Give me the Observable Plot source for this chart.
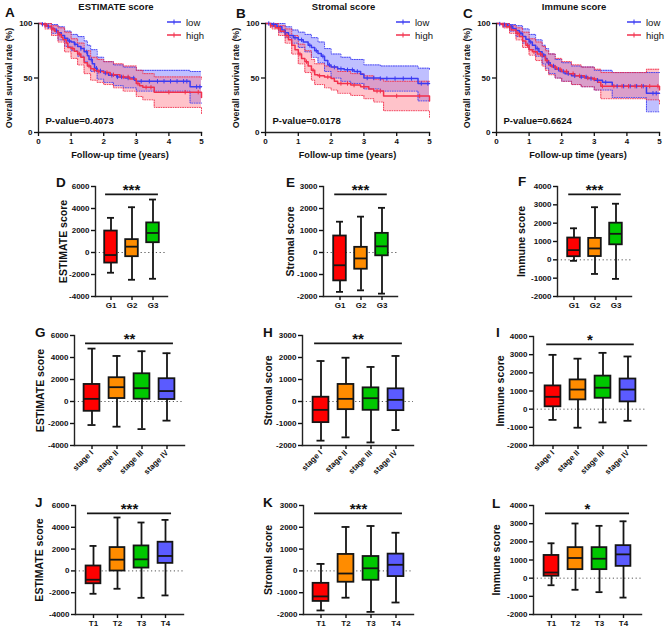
<!DOCTYPE html>
<html><head><meta charset="utf-8">
<script src="https://cdn.jsdelivr.net/npm/d3@7"></script>
<script src="https://cdn.jsdelivr.net/npm/@observablehq/plot@0.6"></script>
<style>
body{margin:0;background:#fff;}
#root{position:relative;width:669px;height:635px;overflow:hidden;background:#fff;font-family:"Liberation Sans",Arial,Helvetica,sans-serif;}
.panel{position:absolute;overflow:visible;}
.letter{position:absolute;font-weight:bold;font-size:13.5px;line-height:1;color:#111;}
.legend{position:absolute;display:flex;align-items:center;height:12px;font-size:9.5px;color:#111;}
</style></head><body><div id="root"></div>
<script>
// ---------- DATA ----------
// Kaplan-Meier curves: [time (years), survival %]
const estimateLow = [[0,100],[0.1,99.3],[0.2,98.5],[0.3,97],[0.4,95.5],[0.5,93.5],[0.6,91.5],[0.7,89],[0.8,86.5],[0.9,84],[1.0,83],[1.1,81],[1.2,79],[1.3,77],[1.4,74],[1.5,70.5],[1.55,67],[1.65,63],[1.72,59],[1.8,56.5],[2.0,54.5],[2.15,52.5],[2.4,51],[2.65,50],[2.95,48],[3.0,47],[4.65,42],[5,42]];
const estimateHigh = [[0,100],[0.1,99],[0.25,97.5],[0.4,95],[0.5,93],[0.6,90],[0.7,87.5],[0.75,85],[0.85,82],[0.9,78],[1.0,77],[1.1,74.5],[1.2,72],[1.3,69],[1.4,64],[1.5,61],[1.6,58.5],[1.7,57],[1.8,56],[2.0,55],[2.2,53],[2.5,51],[2.8,49],[3.0,45],[3.1,43],[3.2,41.5],[3.55,37],[5,32]];
const stromalLow = [[0,100],[0.2,99],[0.35,97],[0.5,94],[0.6,91.5],[0.7,89],[0.85,87],[1.0,85],[1.15,83],[1.3,80],[1.4,78],[1.5,75],[1.6,72.5],[1.7,70],[1.8,66],[1.9,62],[2.0,60],[2.2,58.5],[2.4,57.5],[2.7,56],[2.9,53.5],[3.0,50],[3.5,49.5],[4.65,45],[5,45]];
const stromalHigh = [[0,100],[0.15,98],[0.3,96],[0.45,93],[0.6,89],[0.7,85],[0.8,80],[0.9,76],[1.0,72],[1.1,68],[1.2,65],[1.3,61],[1.4,57],[1.5,53],[1.6,52],[1.8,51],[2.0,49.5],[2.1,47],[2.2,45],[2.6,43.5],[2.9,42],[3.15,40],[3.3,38],[3.6,33.5],[5,29]];
const immuneLow = [[0,100],[0.1,99.5],[0.2,99],[0.35,97.5],[0.5,95.5],[0.6,93.5],[0.7,91],[0.8,88],[0.9,85.5],[1.0,83],[1.1,80],[1.2,77],[1.3,74],[1.4,71],[1.5,68],[1.55,64],[1.65,61],[1.8,58],[1.95,56],[2.1,54],[2.3,52],[2.55,51],[2.8,49.5],[3.0,48],[3.25,46],[3.55,42.5],[4.6,36],[5,36]];
const immuneHigh = [[0,100],[0.15,99],[0.3,97],[0.45,94],[0.6,91],[0.7,88],[0.8,84],[0.9,80],[1.0,76],[1.1,74],[1.25,72],[1.4,70],[1.5,66],[1.6,62],[1.7,60],[1.85,58],[2.0,56],[2.2,54],[2.4,52],[2.7,50],[2.95,49],[3.1,46],[3.2,42.5],[5,39]];
// 95% confidence bands: [time, lower %, upper %]
const estimateLowBand = [[0,100,100],[0.2,97,100],[0.4,91,99],[0.6,85,97],[0.8,79,93],[1.0,75,90],[1.2,70,88],[1.4,65,84],[1.5,61,80],[1.6,56,76],[1.8,49,69],[2.0,46,65],[2.3,43,62],[2.6,41,60],[3.0,38,57],[4.65,27,56],[5,27,56]];
const estimateHighBand = [[0,100,100],[0.2,95,100],[0.4,89,98],[0.6,83,96],[0.8,74,92],[1.0,68,86],[1.2,62,82],[1.4,54,75],[1.6,48,69],[1.8,46,67],[2.0,44,65],[2.3,41,63],[2.6,38,61],[3.0,33,57],[3.2,30,54],[3.55,23,51],[5,17,49]];
const stromalLowBand = [[0,100,100],[0.2,97,100],[0.4,92,100],[0.6,87,97],[0.8,82,94],[1.0,78,92],[1.2,74,90],[1.4,69,87],[1.6,64,83],[1.8,56,77],[2.0,50,72],[2.3,47,69],[2.6,45,67],[3.0,40,62],[3.5,38,61],[4.65,29,59],[5,29,58]];
const stromalHighBand = [[0,100,100],[0.2,95,100],[0.4,89,98],[0.6,82,95],[0.8,72,89],[1.0,63,81],[1.2,55,75],[1.4,48,67],[1.5,44,63],[1.8,41,61],[2.0,39,60],[2.2,36,56],[2.6,34,54],[3.0,31,52],[3.3,28,49],[3.6,20,47],[5,14,46]];
const immuneLowBand = [[0,100,100],[0.2,97,100],[0.4,93,99],[0.6,88,98],[0.8,82,95],[1.0,76,90],[1.2,70,85],[1.4,63,80],[1.5,59,77],[1.6,54,72],[1.8,50,67],[2.0,47,64],[2.3,44,61],[2.6,42,60],[3.0,39,57],[3.55,32,55],[4.6,19,55],[5,19,55]];
const immuneHighBand = [[0,100,100],[0.2,96,100],[0.4,91,98],[0.6,85,96],[0.8,78,92],[1.0,71,86],[1.2,66,83],[1.4,61,79],[1.5,57,75],[1.6,53,72],[1.8,50,68],[2.0,47,65],[2.3,44,62],[2.6,42,60],[3.0,39,58],[3.2,31,55],[4.6,30,58],[5,25,58]];
// censoring times (years)
const estimateLowCens = [0.12,0.3,0.55,0.95,1.12,1.3,1.48,1.62,1.78,1.9,2.05,2.25,2.42,2.55,2.75,2.92,3.15,3.4,3.65,3.85,4.05,4.25,4.45,4.55,4.85,4.95];
const estimateHighCens = [0.2,0.45,0.65,1.05,1.25,1.55,1.72,1.85,2.1,2.3,2.6,2.75,3.05,3.3,3.45,4.0,4.5,4.9];
const stromalLowCens = [0.1,0.25,0.6,0.9,1.1,1.35,1.55,1.75,1.95,2.1,2.3,2.5,2.65,2.8,3.1,3.3,3.5,3.7,3.95,4.2,4.45,4.75,4.95];
const stromalHighCens = [0.15,0.4,0.65,1.05,1.25,1.45,1.65,1.9,2.3,2.5,2.7,3.0,3.4,3.5,4.0,4.7];
const immuneLowCens = [0.1,0.25,0.45,0.75,1.05,1.25,1.45,1.6,1.75,1.9,2.05,2.2,2.4,2.6,2.75,2.9,3.1,3.35,3.7,3.9,4.1,4.3,4.5,4.8,4.9];
const immuneHighCens = [0.2,0.4,0.65,0.95,1.15,1.35,1.55,1.8,1.95,2.15,2.35,2.55,2.8,3.0,3.25,3.6,3.85,4.05,4.25,4.45,4.7,4.95];

// Box plot categories
const gradeCats = ["G1","G2","G3"];
const stageCats = ["stage I","stage II","stage III","stage IV"];
const tCats = ["T1","T2","T3","T4"];
// box stats: [min, q1, median, q3, max]
const estimateGrade = [[-1840,-960,-230,1950,3150],[-2480,-380,530,1170,4115],[-2390,890,1775,2690,4815]];
const stromalGrade  = [[-1790,-1290,-580,750,1400],[-1720,-760,-270,235,1630],[-1870,-150,280,870,2030]];
const immuneGrade   = [[-55,170,530,1190,1720],[-770,180,620,1170,2870],[-1040,820,1420,2000,3060]];
const estimateStage = [[-2140,-890,240,1550,4810],[-2290,270,1300,2160,4140],[-2510,210,1210,2520,4570],[-1740,180,950,2070,4390]];
const stromalStage  = [[-1780,-960,-380,195,1840],[-1630,-370,120,775,1990],[-1860,-400,150,620,1570],[-1300,-415,75,575,2070]];
const immuneStage   = [[-590,130,680,1280,2990],[-1020,510,1080,1610,2780],[-730,600,1180,1820,3100],[-640,400,1080,1660,2900]];
const estimateT = [[-2100,-1180,-810,450,2290],[-1640,-10,1030,2140,4900],[-2470,260,1060,2290,4440],[-2250,690,1370,2630,4680]];
const stromalT  = [[-1815,-1400,-1170,-570,320],[-1230,-520,-120,755,2015],[-1880,-430,120,660,2060],[-1450,-260,280,770,1750]];
const immuneT   = [[-390,110,310,1250,1920],[-640,470,1110,1680,3010],[-770,470,1070,1680,2880],[-1070,650,1310,1790,3130]];

const boxColors = ["#ff0000","#ff8c00","#00c800","#5b5bff"];
const BLUE = "#3b3bf2", RED = "#f2304c";
const FONT = "'Liberation Sans', Arial, Helvetica, sans-serif";

const root = document.getElementById("root");

function stepAt(curve, t) { let s = curve[0][1]; for (const [tt, v] of curve) { if (tt <= t) s = v; else break; } return s; }
const tickSymbol = {draw(ctx, size) { const r = Math.sqrt(size / Math.PI); ctx.moveTo(0, -r); ctx.lineTo(0, r); }};

function addSvg(svg, left, topPx) {
  svg.classList.add("panel");
  svg.style.left = left + "px"; svg.style.top = topPx + "px";
  root.appendChild(svg);
}
function letter(ch, x, capTop) {
  const d = document.createElement("div");
  d.className = "letter"; d.textContent = ch;
  d.style.left = x + "px"; d.style.top = (capTop - 1.8) + "px";
  root.appendChild(d);
}
function legendRow(x, y, color, text) {
  const d = document.createElement("div");
  d.className = "legend";
  d.style.left = x + "px"; d.style.top = (y - 6) + "px";
  d.innerHTML = `<svg width="14" height="12" style="display:block"><line x1="0" x2="14" y1="6" y2="6" stroke="${color}" stroke-width="1.5"/><line x1="7" x2="7" y1="3.5" y2="8.5" stroke="${color}" stroke-width="1"/></svg><span style="margin-left:5px">${text}</span>`;
  root.appendChild(d);
}

function survival({x0, frame:[l,t,r,b], lowS, highS, lowBand, highBand, lowCens, highCens, title, pval}) {
  const W = 223, H = 162;
  const rows = a => a.map(([t,s]) => ({t, s}));
  const bands = a => a.map(([t,lo,hi]) => ({t, lo, hi}));
  const cens = (times, curve) => times.map(t => ({t, s: stepAt(curve, t)}));
  const dotted = {curve: "step-after", strokeWidth: 0.9, strokeDasharray: "1,1.4"};
  const txt = {fontWeight: "bold", lineAnchor: "middle"};
  const svg = Plot.plot({
    width: W, height: H, marginLeft: l - x0, marginRight: x0 + W - r, marginTop: t, marginBottom: H - b,
    style: {background: "transparent", overflow: "visible", fontFamily: FONT, color: "#111"},
    x: {domain: [0, 5]}, y: {domain: [0, 100]},
    marks: [
      Plot.areaY(bands(lowBand), {x: "t", y1: "lo", y2: "hi", curve: "step-after", fill: "#7070ff", fillOpacity: 0.45}),
      Plot.areaY(bands(highBand), {x: "t", y1: "lo", y2: "hi", curve: "step-after", fill: "#ff7080", fillOpacity: 0.42}),
      Plot.line(bands(lowBand), {x: "t", y: "lo", stroke: BLUE, ...dotted}),
      Plot.line(bands(lowBand), {x: "t", y: "hi", stroke: BLUE, ...dotted}),
      Plot.line(bands(highBand), {x: "t", y: "lo", stroke: RED, ...dotted}),
      Plot.line(bands(highBand), {x: "t", y: "hi", stroke: RED, ...dotted}),
      Plot.line(rows(lowS), {x: "t", y: "s", curve: "step-after", stroke: BLUE, strokeWidth: 1.5}),
      Plot.line(rows(highS), {x: "t", y: "s", curve: "step-after", stroke: RED, strokeWidth: 1.5}),
      Plot.dot(cens(lowCens, lowS), {x: "t", y: "s", symbol: tickSymbol, r: 2.2, stroke: BLUE, strokeWidth: 1}),
      Plot.dot(cens(highCens, highS), {x: "t", y: "s", symbol: tickSymbol, r: 2.2, stroke: RED, strokeWidth: 1}),
      Plot.frame({anchor: "left", stroke: "#222", strokeWidth: 1.3}),
      Plot.frame({anchor: "bottom", stroke: "#222", strokeWidth: 1.3}),
      Plot.axisY({ticks: [0, 50, 100], tickSize: 4, tickPadding: 2, tickFormat: d => String(d), fontSize: 8, fontWeight: "bold", label: null, strokeWidth: 1.3}),
      Plot.axisX({ticks: [0, 1, 2, 3, 4, 5], tickSize: 4, tickPadding: 2, tickFormat: d => String(d), fontSize: 8, fontWeight: "bold", label: null, strokeWidth: 1.3}),
      Plot.text([title], {frameAnchor: "top", dy: -17, dx: -4, fontSize: 9.5, ...txt}),
      Plot.text(["Overall survival rate (%)"], {frameAnchor: "left", textAnchor: "middle", rotate: -90, dx: -29, fontSize: 8.8, ...txt}),
      Plot.text(["Follow-up time (years)"], {frameAnchor: "bottom", dy: 23, fontSize: 9.2, ...txt}),
      Plot.text([pval], {frameAnchor: "bottom-left", textAnchor: "start", dx: 7, dy: -12, fontSize: 9.5, ...txt})
    ]
  });
  addSvg(svg, x0, 0);
}

function boxPlot({frame:[l,t,r,b], cats, stats, yDomain, yTicks, label, sig, rotate = 0, padOuter, boxInset, capInset, labelOffset}) {
  const ml = 60, mt = 28, mr = 22, mb = 50;
  const rows = stats.map(([min,q1,med,q3,max], i) => ({cat: cats[i], min, q1, med, q3, max, color: boxColors[i]}));
  const sigY = yDomain[1] - 0.072 * (yDomain[1] - yDomain[0]);
  const step = (r - l) / (cats.length + 2 * padOuter);
  const sigInset = 0.24 * step;
  const line = {stroke: "#151515", strokeWidth: 1.8};
  const svg = Plot.plot({
    width: r - l + ml + mr, height: b - t + mt + mb,
    marginLeft: ml, marginRight: mr, marginTop: mt, marginBottom: mb,
    style: {background: "transparent", overflow: "visible", fontFamily: FONT, color: "#111"},
    x: {type: "band", domain: cats, paddingInner: 0, paddingOuter: padOuter},
    y: {domain: yDomain},
    color: {type: "identity"},
    marks: [
      Plot.ruleY([0], {stroke: "#555", strokeWidth: 1, strokeDasharray: "1.2,2.6"}),
      Plot.ruleX(rows, {x: "cat", y1: "min", y2: "max", ...line}),
      Plot.tickY(rows, {x: "cat", y: "min", insetLeft: capInset, insetRight: capInset, ...line}),
      Plot.tickY(rows, {x: "cat", y: "max", insetLeft: capInset, insetRight: capInset, ...line}),
      Plot.barY(rows, {x: "cat", y1: "q1", y2: "q3", fill: "color", insetLeft: boxInset, insetRight: boxInset, ...line}),
      Plot.tickY(rows, {x: "cat", y: "med", insetLeft: boxInset, insetRight: boxInset, ...line}),
      Plot.ruleY([{a: cats[0], b: cats[cats.length - 1], y: sigY}], {x1: "a", x2: "b", y: "y", insetLeft: sigInset, insetRight: sigInset, ...line}),
      Plot.text([sig], {frameAnchor: "top", lineAnchor: "middle", dy: 4, fontSize: 15, fontWeight: "bold"}),
      Plot.frame({anchor: "left", stroke: "#222", strokeWidth: 1.4}),
      Plot.frame({anchor: "bottom", stroke: "#222", strokeWidth: 1.4}),
      Plot.axisY({ticks: yTicks, tickSize: 4, tickPadding: 2, tickFormat: d => String(d), fontSize: 8, fontWeight: "bold", label: null, strokeWidth: 1.4}),
      Plot.axisX({tickSize: 4, tickPadding: 2, tickRotate: rotate, fontSize: 8, fontWeight: "bold", label: null, strokeWidth: 1.4}),
      Plot.text([label], {frameAnchor: "left", textAnchor: "middle", lineAnchor: "middle", rotate: -90, dx: -labelOffset, fontSize: 10.5, fontWeight: "bold"})
    ]
  });
  addSvg(svg, l - ml, t - mt);
}

// ---------- PANELS ----------
survival({x0: 0, frame: [38, 23, 201, 132], lowS: estimateLow, highS: estimateHigh, lowBand: estimateLowBand, highBand: estimateHighBand, lowCens: estimateLowCens, highCens: estimateHighCens, title: "ESTIMATE score", pval: "P-value=0.4073"});
survival({x0: 223, frame: [265, 23, 429, 132], lowS: stromalLow, highS: stromalHigh, lowBand: stromalLowBand, highBand: stromalHighBand, lowCens: stromalLowCens, highCens: stromalHighCens, title: "Stromal score", pval: "P-value=0.0178"});
survival({x0: 446, frame: [496, 23, 659, 132], lowS: immuneLow, highS: immuneHigh, lowBand: immuneLowBand, highBand: immuneHighBand, lowCens: immuneLowCens, highCens: immuneHighCens, title: "Immune score", pval: "P-value=0.6624"});

const ticksE = [-4000, -2000, 0, 2000, 4000, 6000], ticksS = [-2000, -1000, 0, 1000, 2000, 3000], ticksI = [-2000, -1000, 0, 1000, 2000, 3000, 4000];
const topRow = {padOuter: 0.2, boxInset: 4.2, capInset: 7};
const lowRow = {padOuter: 0.18, boxInset: 4.6, capInset: 8.5};
boxPlot({frame: [95, 186, 167, 296], cats: gradeCats, stats: estimateGrade, yDomain: [-4000, 6000], yTicks: ticksE, label: "ESTIMATE score", sig: "***", labelOffset: 32, ...topRow});
boxPlot({frame: [323, 186, 397, 296], cats: gradeCats, stats: stromalGrade, yDomain: [-2000, 3000], yTicks: ticksS, label: "Stromal score", sig: "***", labelOffset: 33, ...topRow});
boxPlot({frame: [557, 186, 631, 296], cats: gradeCats, stats: immuneGrade, yDomain: [-2000, 4000], yTicks: ticksI, label: "Immune score", sig: "***", labelOffset: 36, ...topRow});
boxPlot({frame: [74, 335, 184, 445], cats: stageCats, stats: estimateStage, yDomain: [-4000, 6000], yTicks: ticksE, label: "ESTIMATE score", sig: "**", rotate: -45, labelOffset: 34, ...lowRow});
boxPlot({frame: [302, 335, 413, 445], cats: stageCats, stats: stromalStage, yDomain: [-2000, 3000], yTicks: ticksS, label: "Stromal score", sig: "**", rotate: -45, labelOffset: 34, ...lowRow});
boxPlot({frame: [533, 336, 646, 445], cats: stageCats, stats: immuneStage, yDomain: [-2000, 4000], yTicks: ticksI, label: "Immune score", sig: "*", rotate: -45, labelOffset: 33, ...lowRow});
boxPlot({frame: [75, 505, 183, 614], cats: tCats, stats: estimateT, yDomain: [-4000, 6000], yTicks: ticksE, label: "ESTIMATE score", sig: "***", labelOffset: 36, ...lowRow});
boxPlot({frame: [303, 505, 413, 614], cats: tCats, stats: stromalT, yDomain: [-2000, 3000], yTicks: ticksS, label: "Stromal score", sig: "***", labelOffset: 35, ...lowRow});
boxPlot({frame: [533, 505, 641, 614], cats: tCats, stats: immuneT, yDomain: [-2000, 4000], yTicks: ticksI, label: "Immune score", sig: "*", labelOffset: 37, ...lowRow});

// legends
legendRow(167, 22, BLUE, "low"); legendRow(167, 35, RED, "high");
legendRow(396, 22, BLUE, "low"); legendRow(396, 35, RED, "high");
legendRow(627, 22, BLUE, "low"); legendRow(627, 35, RED, "high");

// panel letters
[["A",5,8],["B",236,8.5],["C",463,8.5],["D",56,178],["E",286,178],["F",518,177],["G",35,328],["H",263,328],["I",496,328],["J",35,498],["K",263,498],["L",492,499]].forEach(([c,x,y]) => letter(c, x, y));
</script></body></html>
